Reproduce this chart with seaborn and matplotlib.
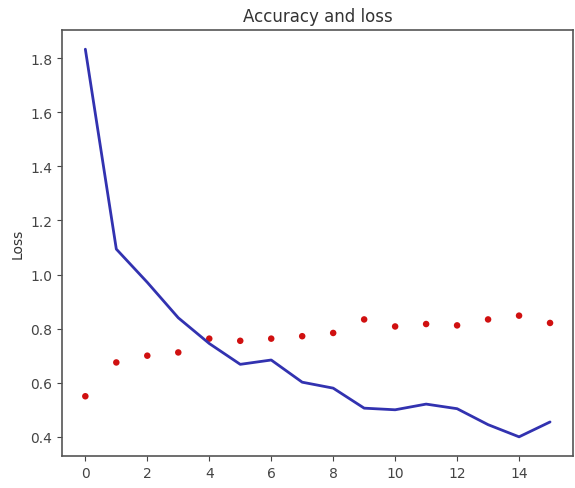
import numpy as np
import pandas as pd
import matplotlib
matplotlib.use("Agg")
import matplotlib.pyplot as plt
import seaborn as sns

# values
epochs = list(range(16))
loss = [1.833, 1.094, 0.971, 0.840, 0.745, 0.668, 0.684, 0.602,
        0.580, 0.506, 0.500, 0.521, 0.504, 0.445, 0.400, 0.455]
accuracy = [0.550, 0.675, 0.700, 0.712, 0.763, 0.755, 0.763, 0.772,
            0.784, 0.834, 0.808, 0.817, 0.812, 0.834, 0.848, 0.821]

df = pd.DataFrame({"epoch": epochs, "loss": loss, "accuracy": accuracy})

sns.set_style("ticks")
plt.rcParams["font.family"] = ["DejaVu Sans"]

fig = plt.figure(figsize=(5.75, 4.89), dpi=100)
ax = fig.add_axes([0.108, 0.065, 0.889, 0.872])

sns.lineplot(data=df, x="epoch", y="loss", color="#3232b0", linewidth=2, ax=ax)
sns.scatterplot(data=df, x="epoch", y="accuracy", color="#d01010", s=22,
                edgecolor="none", ax=ax)

ax.set_title("Accuracy and loss", fontsize=12, color="#333333")
ax.set_xlabel("")
ax.set_ylabel("Loss", fontsize=10, color="#333333")
ax.set_xticks([0, 2, 4, 6, 8, 10, 12, 14])
ax.set_yticks([0.4, 0.6, 0.8, 1.0, 1.2, 1.4, 1.6, 1.8])
ax.tick_params(labelsize=10, colors="#444444")
for s in ax.spines.values():
    s.set_color("#555555")
    s.set_linewidth(1.2)

fig.savefig("out.png", dpi=100)
